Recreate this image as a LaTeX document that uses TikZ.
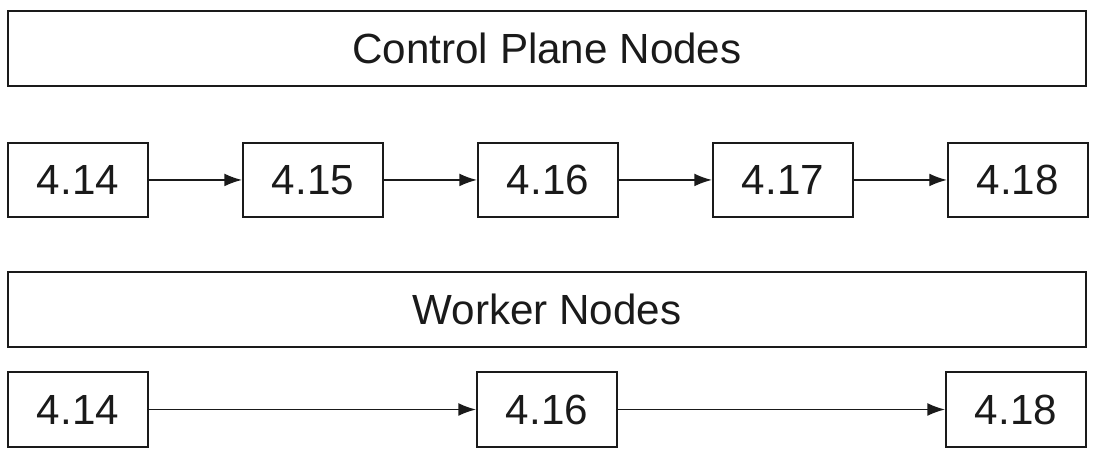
\documentclass[tikz,border=0pt]{standalone}
\usepackage{fontspec}
\setmainfont{Liberation Sans}
\usetikzlibrary{arrows.meta,positioning}
\definecolor{ink}{HTML}{1A1A1A}
\tikzset{
  >={Latex[length=4.4mm,width=3.2mm]},
  every node/.style={font=\fontsize{30}{36}\selectfont,text=ink},
  verbox/.style={draw=ink,line width=1.4pt,minimum width=35mm,minimum height=18.7mm,inner sep=0pt},
  bar/.style={draw=ink,line width=1.4pt,minimum width=269.5mm,minimum height=18.7mm,inner sep=0pt},
  arrow/.style={->,line width=1pt,draw=ink},
}

\begin{document}
\begin{tikzpicture}[node distance=13.6mm and 23.25mm]
\useasboundingbox (0,0) rectangle (27.35,-11.4);

\node[bar,anchor=north west] (cp) at (0.175,-0.26) {Control Plane Nodes};

% control plane upgrades
\node[verbox,below=of cp.south west,anchor=north west] (c14) {4.14};
\node[verbox,right=of c14] (c15) {4.15};
\node[verbox,right=of c15] (c16) {4.16};
\node[verbox,right=of c16] (c17) {4.17};
\node[verbox,right=of c17] (c18) {4.18};

\node[bar,below=13.2mm of c14.south west,anchor=north west] (wk) {Worker Nodes};

% worker upgrades
\node[verbox,below=5.8mm of wk.south west,anchor=north west] (w14) {4.14};
\node[verbox,below=5.8mm of wk.south,anchor=north] (w16) {4.16};
\node[verbox,below=5.8mm of wk.south east,anchor=north east] (w18) {4.18};

\draw[arrow] (c14) -- (c15);
\draw[arrow] (c15) -- (c16);
\draw[arrow] (c16) -- (c17);
\draw[arrow] (c17) -- (c18);
\draw[arrow] (w14) -- (w16);
\draw[arrow] (w16) -- (w18);

\end{tikzpicture}
\end{document}
